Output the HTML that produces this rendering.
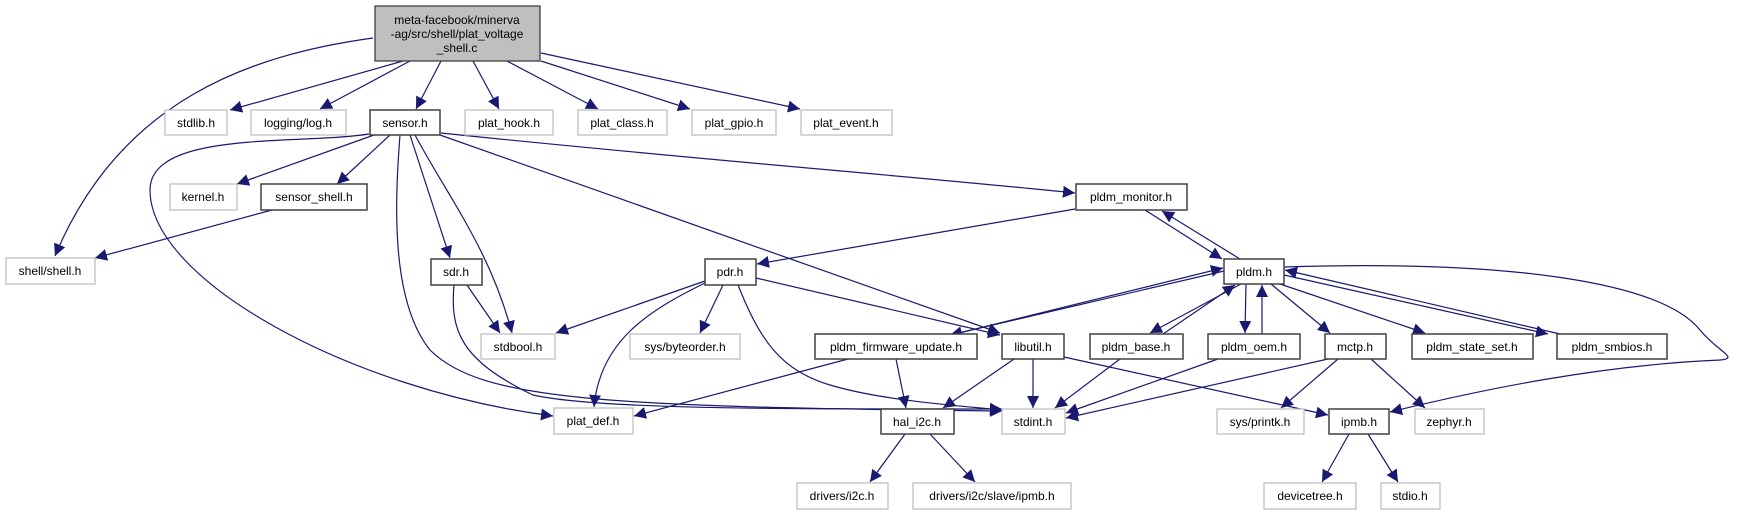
<!DOCTYPE html>
<html><head><meta charset="utf-8"><style>
html,body{margin:0;padding:0;background:#fff;}
svg{display:block;}
text{font-family:"Liberation Sans",sans-serif;font-size:12px;fill:#000;}
</style></head><body>
<svg width="1738" height="515" viewBox="0 0 1738 515" xmlns="http://www.w3.org/2000/svg">
<defs><marker id="a" viewBox="0 0 10 10" refX="10" refY="5" markerWidth="12" markerHeight="12" markerUnits="userSpaceOnUse" orient="auto"><path d="M0,0 L10,5 L0,10 z" fill="#191970"/></marker></defs>
<g fill="none" stroke="#191970" stroke-width="1.2" marker-end="url(#a)">
<path d="M373,38 C250,55 120,100 55,256"/>
<path d="M403,61 L230,110"/>
<path d="M410,61 L320,109"/>
<path d="M441,61 L416,109"/>
<path d="M473,61 L499,109"/>
<path d="M507,61 L598,109"/>
<path d="M541,61 L690,109"/>
<path d="M541,53 L800,109"/>
<path d="M369,134 C300,145 150,130 150,190 C150,280 350,390 553,416"/>
<path d="M374,135 L237,184"/>
<path d="M390,135 L337,184"/>
<path d="M400,135 C395,200 390,300 430,350 C480,400 600,407 1002,411"/>
<path d="M410,135 L450,258"/>
<path d="M415,135 C450,200 490,250 512,333"/>
<path d="M440,135 L1000,333"/>
<path d="M441,133 C700,160 900,175 1075,193"/>
<path d="M272,210 L95,258"/>
<path d="M1075,209 L757,264"/>
<path d="M1145,210 L1222,259"/>
<path d="M1240,259 L1162,211"/>
<path d="M467,285 L500,333"/>
<path d="M454,285 C450,330 460,360 533,395 C600,410 800,409 1002,409"/>
<path d="M705,281 L556,333"/>
<path d="M723,285 L700,333"/>
<path d="M705,283 C650,310 600,340 594,407"/>
<path d="M738,285 C760,340 780,370 830,385 C880,400 950,405 1002,410"/>
<path d="M756,278 L1000,335"/>
<path d="M848,359 L634,416"/>
<path d="M896,359 L906,408"/>
<path d="M955,334 L1223,268"/>
<path d="M1224,271 L950,335"/>
<path d="M1014,359 L943,408"/>
<path d="M1033,359 L1033,408"/>
<path d="M1064,357 L1328,415"/>
<path d="M1241,284 L1150,333"/>
<path d="M1163,334 L1235,285"/>
<path d="M1246,284 L1245,333"/>
<path d="M1262,334 L1262,285"/>
<path d="M1271,284 L1330,333"/>
<path d="M1280,284 L1425,333"/>
<path d="M1284,275 L1548,334"/>
<path d="M1560,334 L1285,270"/>
<path d="M1284,267 C1500,260 1660,280 1700,330 C1718,352 1740,358 1720,360 C1600,365 1480,390 1390,412"/>
<path d="M1120,359 L1055,408"/>
<path d="M1218,359 L1066,413"/>
<path d="M1328,359 L1066,418"/>
<path d="M1338,359 L1281,408"/>
<path d="M1371,359 L1425,408"/>
<path d="M905,434 L870,482"/>
<path d="M930,434 L975,482"/>
<path d="M1349,434 L1322,482"/>
<path d="M1368,434 L1398,482"/>
</g>
<g stroke-width="1.3">
<rect x="375" y="6" width="165" height="55" fill="#bfbfbf" stroke="#404040"/>
<text x="457" y="24" text-anchor="middle">meta-facebook/minerva</text>
<text x="457" y="38" text-anchor="middle">-ag/src/shell/plat_voltage</text>
<text x="457" y="52" text-anchor="middle">_shell.c</text>
</g>
<g fill="#fff" stroke="#bfbfbf" stroke-width="1.3">
<rect x="165" y="110" width="62" height="25"/><rect x="251" y="110" width="95" height="25"/>
<rect x="465" y="110" width="88" height="25"/><rect x="578" y="110" width="89" height="25"/>
<rect x="692" y="110" width="84" height="25"/><rect x="801" y="110" width="91" height="25"/>
<rect x="170" y="184" width="67" height="26"/><rect x="6" y="258" width="89" height="26"/>
<rect x="481" y="334" width="74" height="25"/><rect x="630" y="334" width="110" height="25"/>
<rect x="554" y="408" width="79" height="26"/><rect x="797" y="483" width="91" height="26"/>
<rect x="1002" y="409" width="63" height="25"/><rect x="1217" y="409" width="87" height="25"/>
<rect x="1415" y="409" width="69" height="25"/><rect x="913" y="483" width="158" height="26"/>
<rect x="1264" y="483" width="92" height="26"/><rect x="1381" y="483" width="59" height="26"/>
</g>
<g fill="#fff" stroke="#404040" stroke-width="1.5">
<rect x="370" y="110" width="70" height="25"/><rect x="261" y="184" width="106" height="26"/>
<rect x="431" y="259" width="51" height="26"/><rect x="705" y="259" width="51" height="26"/>
<rect x="815" y="334" width="162" height="25"/><rect x="1076" y="184" width="111" height="26"/>
<rect x="1224" y="259" width="60" height="25"/><rect x="1002" y="334" width="62" height="25"/>
<rect x="1090" y="334" width="93" height="25"/><rect x="1208" y="334" width="92" height="25"/>
<rect x="1325" y="334" width="61" height="25"/><rect x="1412" y="334" width="121" height="25"/>
<rect x="1557" y="334" width="110" height="25"/><rect x="881" y="409" width="73" height="25"/>
<rect x="1329" y="409" width="60" height="25"/>
</g>
<g text-anchor="middle">
<text x="196" y="127">stdlib.h</text><text x="298" y="127">logging/log.h</text>
<text x="405" y="127">sensor.h</text><text x="509" y="127">plat_hook.h</text>
<text x="622" y="127">plat_class.h</text><text x="734" y="127">plat_gpio.h</text>
<text x="846" y="127">plat_event.h</text><text x="203" y="201">kernel.h</text>
<text x="314" y="201">sensor_shell.h</text><text x="1131" y="201">pldm_monitor.h</text>
<text x="50" y="275">shell/shell.h</text><text x="456" y="276">sdr.h</text>
<text x="730" y="276">pdr.h</text><text x="1254" y="276">pldm.h</text>
<text x="518" y="351">stdbool.h</text><text x="685" y="351">sys/byteorder.h</text>
<text x="896" y="351">pldm_firmware_update.h</text><text x="1033" y="351">libutil.h</text>
<text x="1136" y="351">pldm_base.h</text><text x="1254" y="351">pldm_oem.h</text>
<text x="1355" y="351">mctp.h</text><text x="1472" y="351">pldm_state_set.h</text>
<text x="1612" y="351">pldm_smbios.h</text>
<text x="593" y="425">plat_def.h</text><text x="917" y="426">hal_i2c.h</text>
<text x="1033" y="426">stdint.h</text><text x="1260" y="426">sys/printk.h</text>
<text x="1359" y="426">ipmb.h</text><text x="1449" y="426">zephyr.h</text>
<text x="842" y="500">drivers/i2c.h</text><text x="992" y="500">drivers/i2c/slave/ipmb.h</text>
<text x="1310" y="500">devicetree.h</text><text x="1410" y="500">stdio.h</text>
</g>
</svg>
</body></html>
